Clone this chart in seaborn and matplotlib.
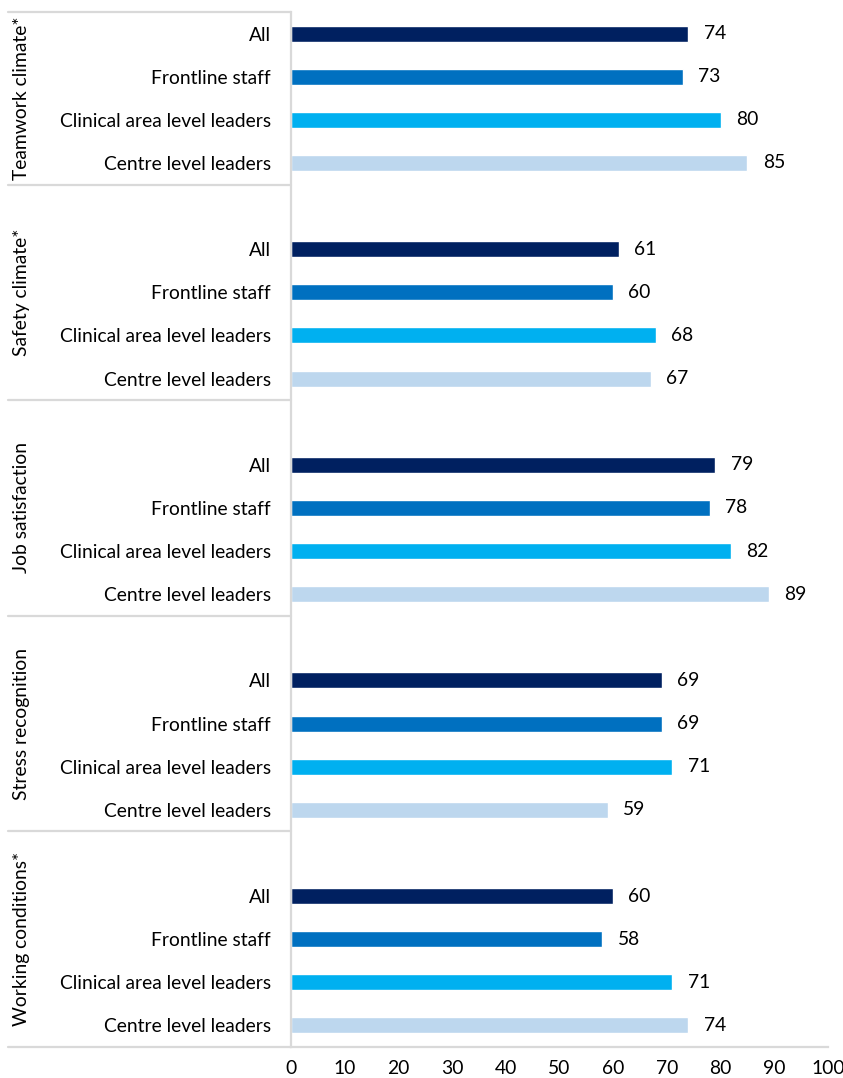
import numpy as np
import pandas as pd
import matplotlib
matplotlib.use("Agg")
import matplotlib.pyplot as plt
import matplotlib.transforms as mtransforms
import seaborn as sns

# Survey domains and respondent roles
groups = ["Teamwork climate*", "Safety climate*", "Job satisfaction",
          "Stress recognition", "Working conditions*"]
roles = ["All", "Frontline staff", "Clinical area level leaders", "Centre level leaders"]

# Percent positive scores per domain, in role order
teamwork = [74, 73, 80, 85]
safety = [61, 60, 68, 67]
job_satisfaction = [79, 78, 82, 89]
stress_recognition = [69, 69, 71, 59]
working_conditions = [60, 58, 71, 74]

role_colors = ["#002060", "#0070C0", "#00B0F0", "#BDD7EE"]
x_ticks = list(range(0, 101, 10))

sns.set_style("white")
plt.rcParams["font.family"] = ["Lato", "DejaVu Sans"]
plt.rcParams["font.size"] = 13.9

series = [teamwork, safety, job_satisfaction, stress_recognition, working_conditions]
rows = []
for g, (name, vals) in enumerate(zip(groups, series)):
    for i, (role, v) in enumerate(zip(roles, vals)):
        rows.append({"group": name, "role": role, "value": v, "slot": g * 5 + i})
df = pd.DataFrame(rows)

W, H = 843, 1078
fig = plt.figure(figsize=(W / 100, H / 100), dpi=100)
ax = fig.add_axes([291 / W, 1 - 1047 / H, 537 / W, 1035 / H])

sns.barplot(data=df, x="value", y="slot", hue="role", hue_order=roles,
            palette=role_colors, orient="h", native_scale=True, dodge=False,
            width=0.37, saturation=1, legend=False, ax=ax)

n_slots = len(groups) * 5 - 1
ax.set_ylim(n_slots - 0.5, -0.5)
ax.set_xlim(0, 100)

# Role labels on the category axis
ax.set_yticks(df["slot"].tolist())
ax.set_yticklabels(df["role"].tolist(), color="#000000")
ax.tick_params(axis="y", length=0, pad=14.5)
ax.set_ylabel("")
ax.set_xlabel("")

# Value axis
ax.set_xticks(x_ticks)
ax.set_xticklabels([str(t) for t in x_ticks], color="#000000")
ax.tick_params(axis="x", direction="out", length=4.5, width=1.2,
               color="#BFBFBF", pad=5)

for side in ["top", "right"]:
    ax.spines[side].set_visible(False)
for side in ["left", "bottom"]:
    ax.spines[side].set_color("#D9D9D9")
    ax.spines[side].set_linewidth(1.6)

# Value labels at the bar ends
for container in ax.containers:
    ax.bar_label(container, fmt="%d", padding=11, color="#000000")

# Group separators and rotated group names in the left margin
trans = mtransforms.blended_transform_factory(ax.transAxes, ax.transData)
x_left = (8 - 291) / 537
bounds = [-0.5] + [g * 5 + 3.5 for g in range(len(groups))]
for b in bounds:
    ax.plot([x_left, 0], [b, b], color="#D9D9D9", lw=1.6,
            transform=trans, clip_on=False)

x_text = (22 - 291) / 537
for g, name in enumerate(groups):
    center = (bounds[g] + bounds[g + 1]) / 2
    ax.text(x_text, center, name, rotation=90, ha="center", va="center",
            transform=trans, color="#000000")

fig.savefig("out.png", dpi=100)
